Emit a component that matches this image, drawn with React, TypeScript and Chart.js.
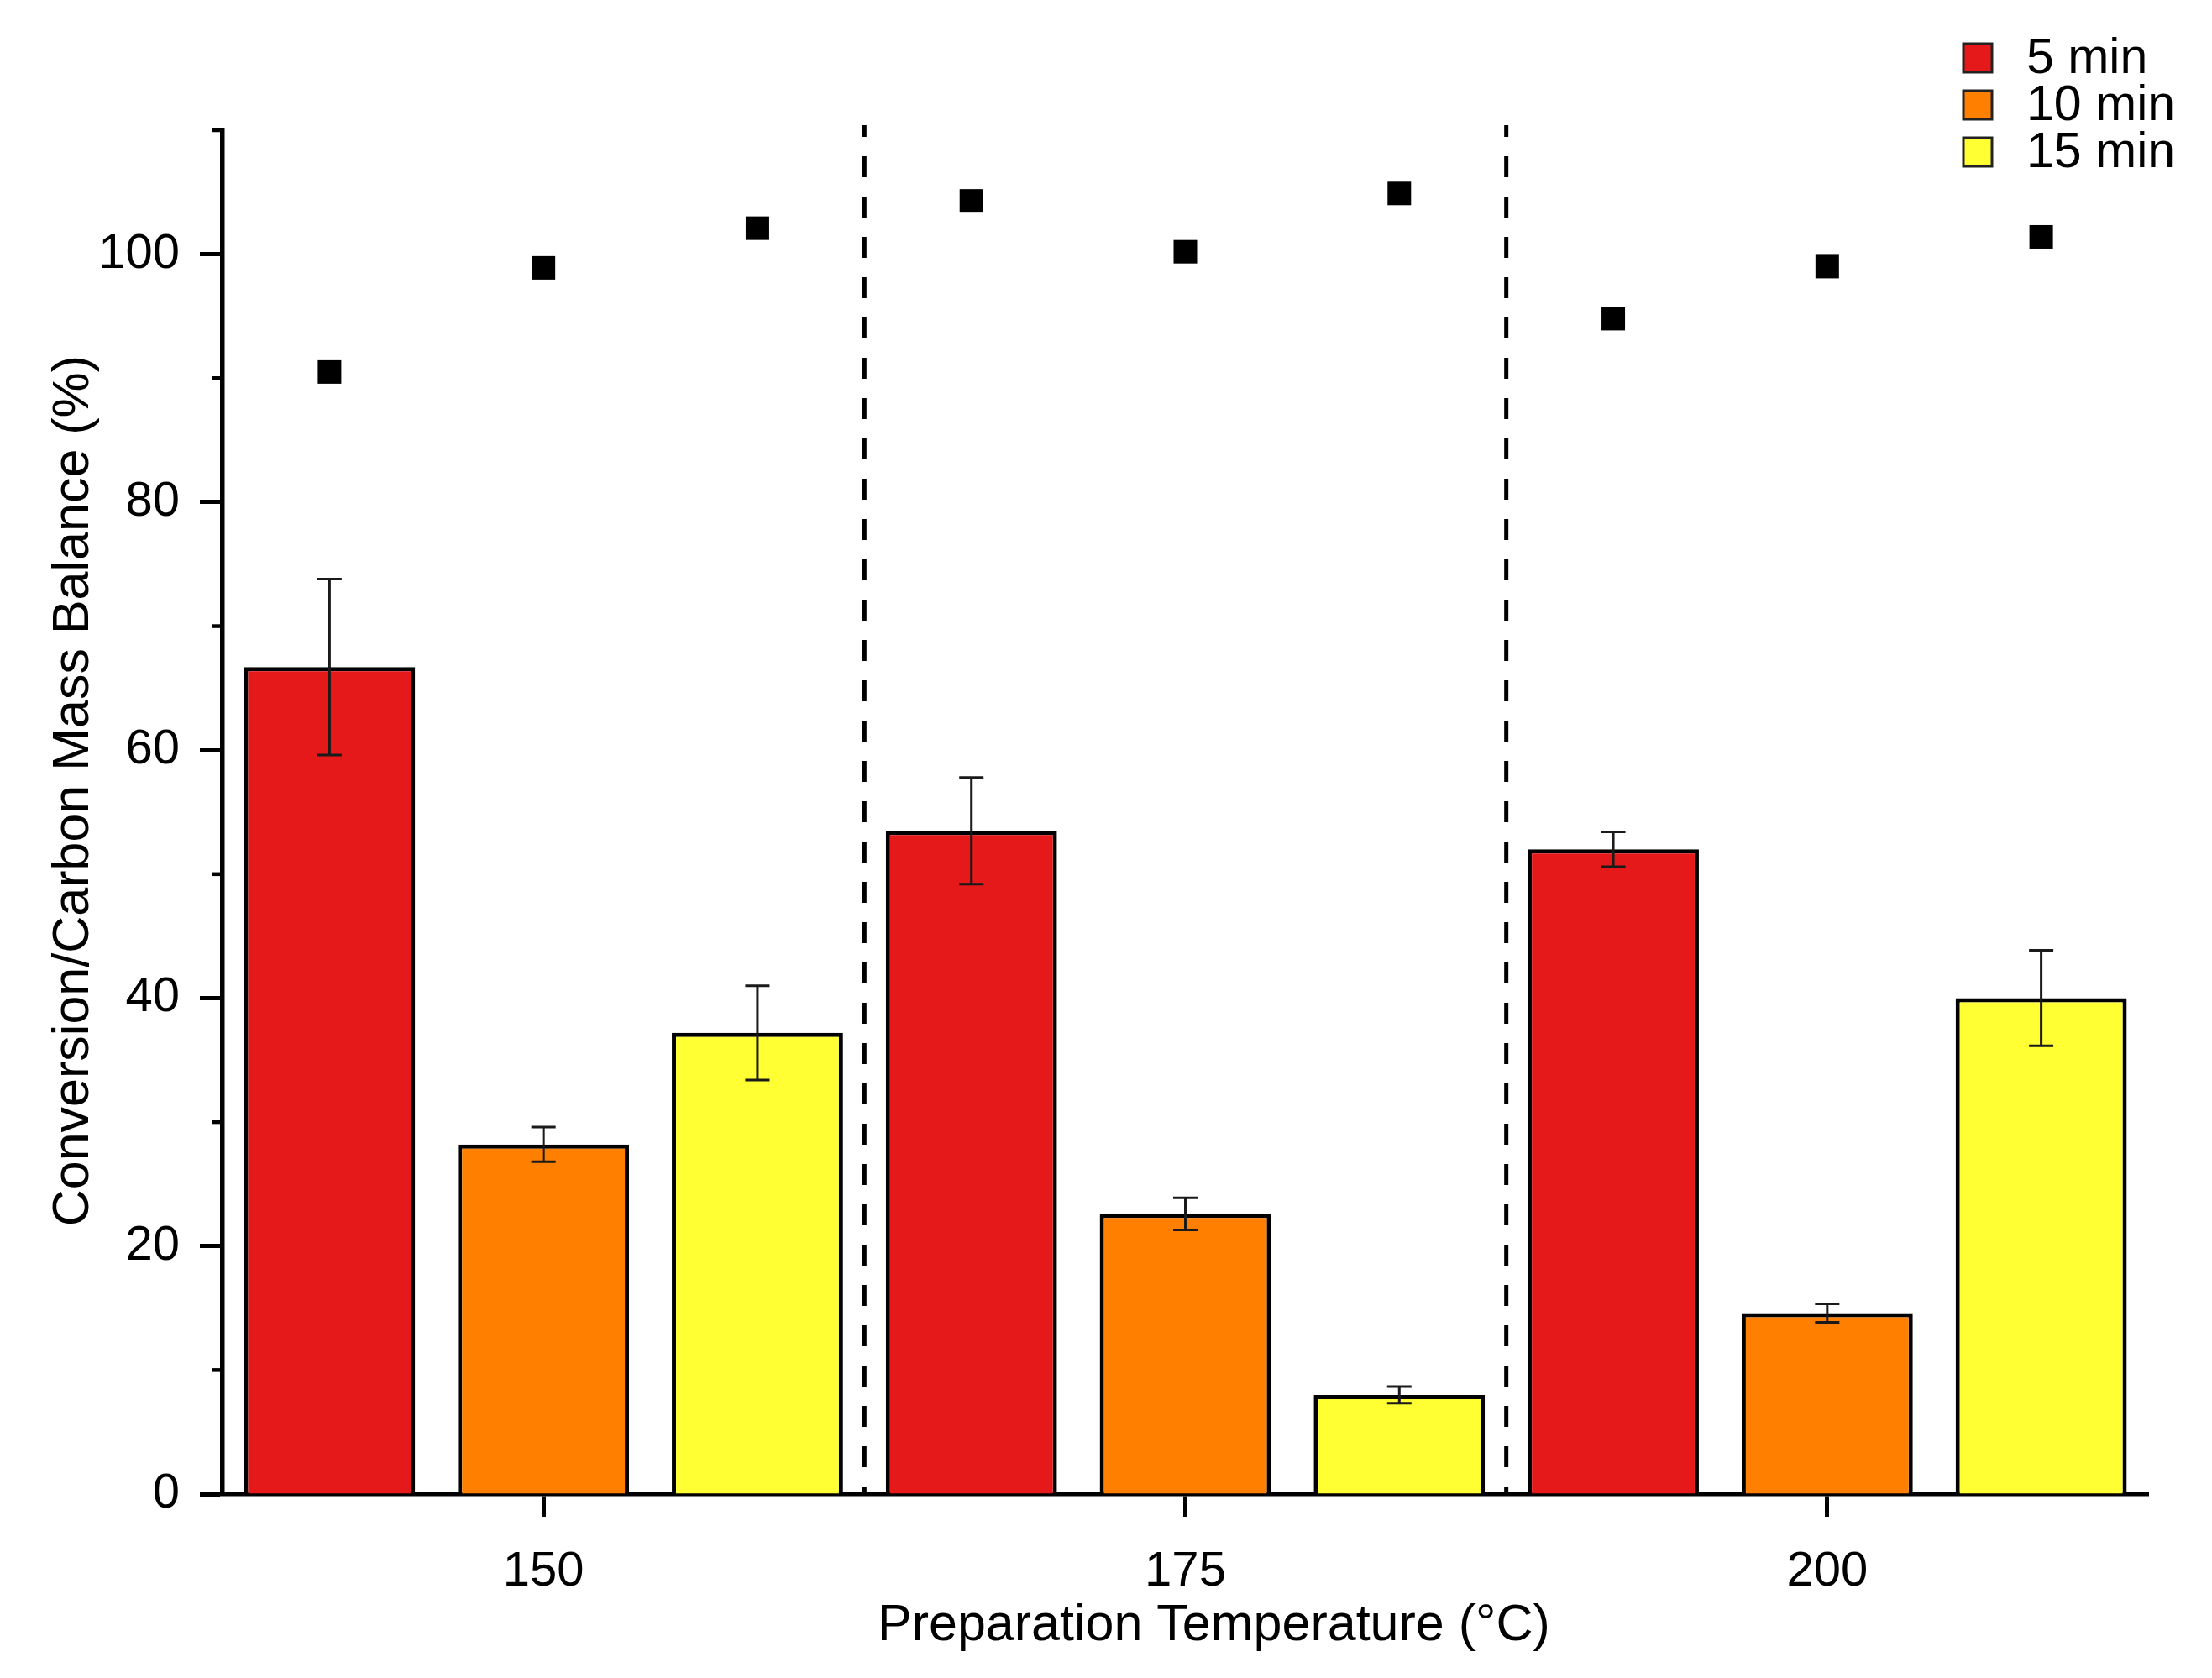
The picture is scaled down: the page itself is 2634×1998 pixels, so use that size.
import { useEffect, useRef } from 'react';
import { Chart, registerables } from 'chart.js';

Chart.register(...registerables);

const temperatures = ['150', '175', '200'];
const seriesLabels = ['5 min', '10 min', '15 min'];
const seriesColors = ['#e6191a', '#ff7f00', '#ffff33'];

const conversion5 = [66.7, 53.5, 52.0];
const conversion10 = [28.2, 22.6, 14.6];
const conversion15 = [37.2, 8.0, 40.0];

const error5 = [7.1, 4.3, 1.4];
const error10 = [1.4, 1.3, 0.75];
const error15 = [3.8, 0.67, 3.85];

const massBalance5 = [90.5, 104.3, 94.8];
const massBalance10 = [98.9, 100.2, 99.0];
const massBalance15 = [102.1, 104.9, 101.4];

const yLabelTicks = [0, 20, 40, 60, 80, 100];

const conversionSeries = [conversion5, conversion10, conversion15];
const errorSeries = [error5, error10, error15];
const massSeries = [massBalance5, massBalance10, massBalance15];

const FONT = '"Liberation Sans", Arial, sans-serif';

const decorations = {
  id: 'decorations',
  beforeDatasetsDraw(chart: any) {
    const { ctx, chartArea, scales } = chart;
    const x = scales.x;
    ctx.save();
    ctx.strokeStyle = '#000';
    ctx.lineWidth = 5;
    ctx.setLineDash([25, 23]);
    ctx.lineDashOffset = 11;
    for (let i = 0; i < temperatures.length - 1; i++) {
      const px = (x.getPixelForValue(i) + x.getPixelForValue(i + 1)) / 2;
      ctx.beginPath();
      ctx.moveTo(px, chartArea.top - 6);
      ctx.lineTo(px, chartArea.bottom);
      ctx.stroke();
    }
    ctx.restore();
  },
  afterDatasetsDraw(chart: any) {
    const { ctx, scales } = chart;
    const y = scales.y;
    ctx.save();
    // error bars
    ctx.strokeStyle = '#1a1a1a';
    ctx.lineWidth = 3;
    conversionSeries.forEach((values, i) => {
      const meta = chart.getDatasetMeta(i);
      meta.data.forEach((bar: any, j: number) => {
        const top = y.getPixelForValue(values[j] + errorSeries[i][j]);
        const bottom = y.getPixelForValue(values[j] - errorSeries[i][j]);
        ctx.beginPath();
        ctx.moveTo(bar.x, top);
        ctx.lineTo(bar.x, bottom);
        ctx.moveTo(bar.x - 14.5, top);
        ctx.lineTo(bar.x + 14.5, top);
        ctx.moveTo(bar.x - 14.5, bottom);
        ctx.lineTo(bar.x + 14.5, bottom);
        ctx.stroke();
      });
    });
    // carbon mass balance squares
    ctx.fillStyle = '#000';
    massSeries.forEach((values, i) => {
      const meta = chart.getDatasetMeta(i);
      meta.data.forEach((bar: any, j: number) => {
        const py = y.getPixelForValue(values[j]);
        ctx.fillRect(bar.x - 14, py - 14, 28, 28);
      });
    });
    ctx.restore();
  },
  afterDraw(chart: any) {
    const { ctx, chartArea, scales } = chart;
    const y = scales.y;
    ctx.save();
    // minor ticks
    ctx.strokeStyle = '#000';
    ctx.lineWidth = 4.5;
    y.ticks.forEach((t: any) => {
      if (yLabelTicks.includes(t.value)) return;
      const py = y.getPixelForValue(t.value);
      ctx.beginPath();
      ctx.moveTo(chartArea.left - 12, py);
      ctx.lineTo(chartArea.left, py);
      ctx.stroke();
    });
    // legend
    ctx.font = `59px ${FONT}`;
    ctx.textBaseline = 'middle';
    ctx.textAlign = 'left';
    seriesLabels.forEach((label, i) => {
      const top = 52 + i * 56;
      ctx.fillStyle = seriesColors[i];
      ctx.fillRect(2338, top, 34, 34);
      ctx.strokeStyle = '#222';
      ctx.lineWidth = 3;
      ctx.strokeRect(2338, top, 34, 34);
      ctx.fillStyle = '#000';
      ctx.fillText(label, 2413, top + 19);
    });
    ctx.restore();
  },
};

export default function App() {
  const canvasRef = useRef<HTMLCanvasElement>(null);

  useEffect(() => {
    document.body.style.margin = '0';
    document.body.style.overflow = 'hidden';
    if (!canvasRef.current) return;

    const chart = new Chart(canvasRef.current, {
      type: 'bar',
      data: {
        labels: temperatures,
        datasets: conversionSeries.map((values, i) => ({
          label: seriesLabels[i],
          data: values,
          backgroundColor: seriesColors[i],
          borderColor: '#000',
          borderWidth: 5,
          categoryPercentage: 1.0,
          barPercentage: 0.8,
        })),
      },
      options: {
        animation: false,
        responsive: true,
        maintainAspectRatio: false,
        layout: { padding: { top: 155, right: 76, bottom: 0, left: 0 } },
        plugins: {
          legend: { display: false },
          tooltip: { enabled: false },
        },
        scales: {
          x: {
            offset: true,
            grid: {
              offset: false,
              drawOnChartArea: false,
              drawTicks: true,
              tickLength: 27,
              tickWidth: 5,
              tickColor: '#000',
            },
            border: { display: true, color: '#000', width: 5.5 },
            ticks: { color: '#000', font: { family: FONT, size: 58 }, padding: 31 },
            title: {
              display: true,
              text: '    Preparation Temperature (°C)',
              color: '#000',
              font: { family: FONT, size: 61 },
              padding: { top: 0, bottom: 25 },
            },
            afterFit: (s: any) => {
              s.height = 219;
            },
          },
          y: {
            min: 0,
            max: 110,
            grid: {
              drawOnChartArea: false,
              drawTicks: true,
              tickLength: 27,
              tickWidth: 5,
              tickColor: (c: any) => (yLabelTicks.includes(c.tick?.value) ? '#000' : 'rgba(0,0,0,0)'),
            },
            border: { display: true, color: '#000', width: 5.5 },
            ticks: {
              stepSize: 10,
              autoSkip: false,
              color: '#000',
              font: { family: FONT, size: 58 },
              padding: 24,
              callback: (v: any) => (yLabelTicks.includes(v) ? String(v) : ''),
            },
            title: {
              display: true,
              text: '   Conversion/Carbon Mass Balance (%)',
              color: '#000',
              font: { family: FONT, size: 61 },
              padding: { top: 52, bottom: 0 },
            },
            afterFit: (s: any) => {
              s.width = 265;
            },
          },
        },
      },
      plugins: [decorations],
    });

    return () => chart.destroy();
  }, []);

  return (
    <div style={{ position: 'relative', width: '2634px', height: '1998px' }}>
      <canvas ref={canvasRef}></canvas>
    </div>
  );
}
